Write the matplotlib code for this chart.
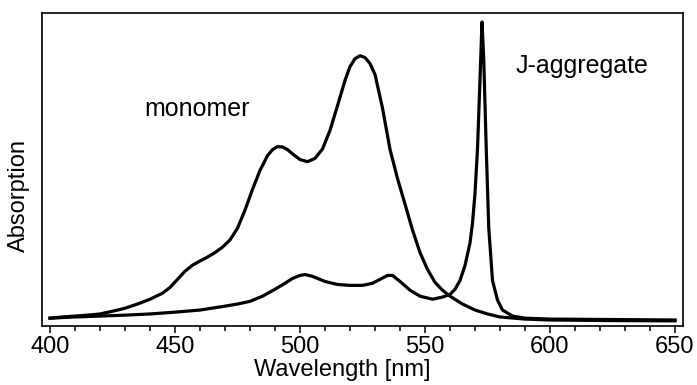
import numpy as np
import matplotlib
matplotlib.use("Agg")
import matplotlib.pyplot as plt
from matplotlib.ticker import MultipleLocator

plt.rcParams['font.family'] = ['Liberation Sans', 'DejaVu Sans']

# monomer spectrum (wavelength nm, absorption a.u.)
mono_wl = [400, 405, 410, 415, 420, 425, 430, 435, 440, 445, 448, 451, 454, 457,
           460, 463, 466, 469, 472, 475, 478, 481, 484, 487, 489, 491, 493, 495,
           497, 500, 503, 506, 509, 512, 515, 518, 520, 522, 524, 526, 528, 530,
           533, 536, 539, 542, 545, 548, 551, 554, 557, 560, 565, 570, 575, 580,
           590, 600, 625, 650]
mono_abs = [0.016, 0.020, 0.023, 0.026, 0.030, 0.039, 0.049, 0.063, 0.079, 0.099,
            0.118, 0.145, 0.172, 0.192, 0.206, 0.219, 0.234, 0.252, 0.276, 0.315,
            0.375, 0.444, 0.507, 0.556, 0.576, 0.586, 0.585, 0.576, 0.562, 0.543,
            0.536, 0.547, 0.578, 0.640, 0.722, 0.806, 0.852, 0.878, 0.888, 0.882,
            0.862, 0.826, 0.714, 0.577, 0.480, 0.395, 0.309, 0.234, 0.178, 0.135,
            0.109, 0.089, 0.063, 0.043, 0.030, 0.020, 0.013, 0.010, 0.008, 0.007]

# J-aggregate spectrum
jagg_wl = [400, 410, 420, 430, 440, 450, 460, 470, 475, 480, 485, 490, 494, 497,
           500, 502, 505, 510, 515, 520, 525, 529, 532, 535, 537, 540, 544, 548,
           553, 557, 560, 562, 564, 566, 568, 569, 570, 571, 572, 572.8, 573.5,
           574.5, 575.5, 577, 579, 581, 585, 590, 600, 650]
jagg_abs = [0.016, 0.020, 0.023, 0.026, 0.030, 0.036, 0.043, 0.056, 0.063, 0.072,
            0.089, 0.112, 0.132, 0.148, 0.158, 0.161, 0.155, 0.138, 0.128, 0.125,
            0.125, 0.132, 0.145, 0.158, 0.158, 0.138, 0.109, 0.089, 0.079, 0.086,
            0.095, 0.112, 0.141, 0.191, 0.266, 0.332, 0.431, 0.579, 0.809, 1.000,
            0.875, 0.579, 0.316, 0.141, 0.076, 0.043, 0.023, 0.016, 0.013, 0.010]

fig = plt.figure(figsize=(6.97, 3.85), dpi=100)
ax = fig.add_axes([42 / 697, 59 / 385, 641 / 697, 313 / 385])

ax.plot(mono_wl, mono_abs, color='black', lw=2.3, solid_joinstyle='round')
ax.plot(jagg_wl, jagg_abs, color='black', lw=2.3, solid_joinstyle='round')

ax.set_xlim(396.8, 653.2)
ax.set_ylim(-0.01, 1.03)

for s in ax.spines.values():
    s.set_linewidth(1.2)

ax.xaxis.set_major_locator(MultipleLocator(50))
ax.xaxis.set_minor_locator(MultipleLocator(10))
ax.tick_params(axis='x', which='major', direction='out', length=5, width=1.1,
               labelsize=17, pad=2)
ax.tick_params(axis='x', which='minor', direction='out', length=3.5, width=1.1)
ax.set_yticks([])

fig.text(342 / 697, 4 / 385, "Wavelength [nm]", ha='center', va='bottom', fontsize=17)
fig.text(8 / 697, 190 / 385, "Absorption", rotation=90, ha='left', va='center', fontsize=17)

ax.text(459, 0.687, "monomer", fontsize=18, ha='center', va='baseline')
ax.text(613, 0.83, "J-aggregate", fontsize=18, ha='center', va='baseline')

fig.savefig("out.png", dpi=100)
